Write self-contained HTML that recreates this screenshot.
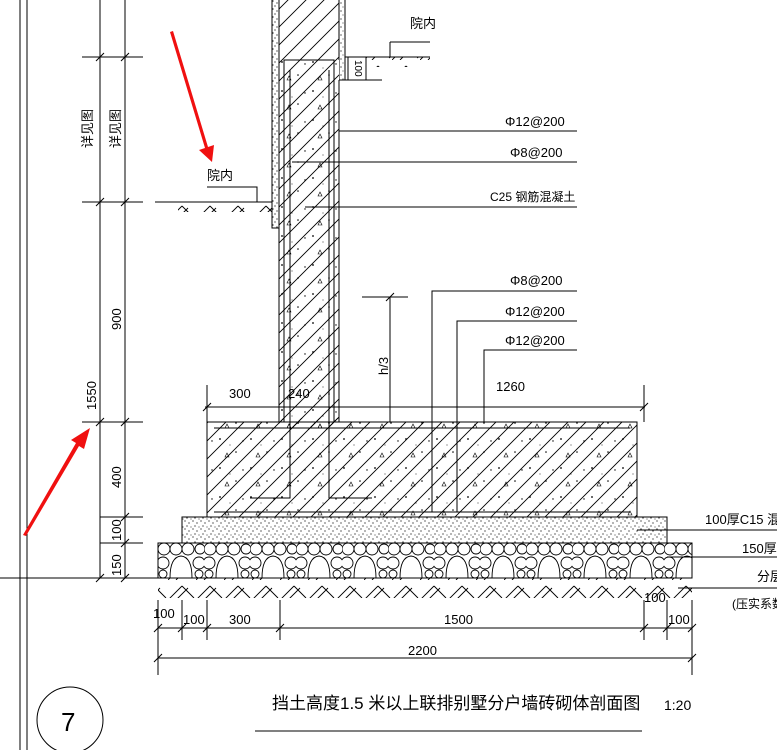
<!DOCTYPE html>
<html><head><meta charset="utf-8"><style>
html,body{margin:0;padding:0;background:#fff}
svg{display:block}
text{font-family:"Liberation Sans","Noto Sans CJK SC",sans-serif;fill:#000}
</style></head><body>
<svg width="777" height="750" viewBox="0 0 777 750" xmlns="http://www.w3.org/2000/svg">
<defs>
<pattern id="h" width="18" height="18" patternUnits="userSpaceOnUse">
<path d="M0 18 L18 0 M-2 2 L2 -2 M16 20 L20 16" stroke="#000" stroke-width="0.9" fill="none"/></pattern>
<pattern id="dots" width="31" height="29" patternUnits="userSpaceOnUse">
<circle cx="3" cy="4" r="0.9"/><circle cx="19" cy="17" r="0.8"/><path d="M8 22 l4 0 l-2 -4z" fill="none" stroke="#000" stroke-width="0.6"/><circle cx="26" cy="6" r="0.7"/><circle cx="13" cy="10" r="0.5"/></pattern>
<pattern id="sand" width="8" height="8" patternUnits="userSpaceOnUse">
<circle cx="1" cy="1" r="0.6"/><circle cx="5" cy="3" r="0.6"/><circle cx="3" cy="6" r="0.6"/><circle cx="7" cy="7" r="0.5"/></pattern>
<pattern id="gnd" width="28" height="20" patternUnits="userSpaceOnUse">
<path d="M0 20 L14 6 M8 20 L20 8 M14 6 L26 18" stroke="#000" stroke-width="0.9" fill="none"/></pattern>
<pattern id="stone" width="46" height="35" patternUnits="userSpaceOnUse" x="158" y="543">
<g fill="none" stroke="#000" stroke-width="0.9">
<circle cx="6" cy="6" r="6"/><circle cx="18" cy="6" r="6"/><circle cx="30" cy="6" r="6"/><circle cx="42" cy="6" r="5"/>
<path d="M12 35 Q12 14 23 13 Q34 14 34 35"/><circle cx="5" cy="20" r="6"/><circle cx="41" cy="20" r="6"/><circle cx="5" cy="31" r="4"/><circle cx="41" cy="31" r="4"/></g></pattern>
</defs>

<line x1="20" y1="0" x2="20" y2="750" stroke="#000"/>
<line x1="27" y1="0" x2="27" y2="750" stroke="#000"/>

<g stroke="#000" stroke-width="1">
<line x1="100" y1="0" x2="100" y2="578"/>
<line x1="125" y1="0" x2="125" y2="578"/>
<line x1="82" y1="57" x2="143" y2="57"/><line x1="82" y1="202" x2="143" y2="202"/>
<line x1="82" y1="422" x2="143" y2="422"/><line x1="100" y1="517" x2="143" y2="517"/>
<line x1="100" y1="543" x2="143" y2="543"/><line x1="0" y1="578" x2="692" y2="578"/>
<path d="M96 61l8-8M121 61l8-8M96 206l8-8M121 206l8-8M96 426l8-8M121 426l8-8M121 521l8-8M121 547l8-8M96 582l8-8M121 582l8-8"/>
</g>
<g font-size="13">
<text transform="translate(92,148) rotate(-90)">详见图</text>
<text transform="translate(120,148) rotate(-90)">详见图</text>
<text transform="translate(121,330) rotate(-90)">900</text>
<text transform="translate(96,410) rotate(-90)">1550</text>
<text transform="translate(121,488) rotate(-90)">400</text>
<text transform="translate(121,541) rotate(-90)">100</text>
<text transform="translate(121,576) rotate(-90)">150</text>
</g>

<rect x="279" y="-2" width="60" height="120" fill="url(#h)" stroke="#000"/>
<rect x="272" y="-2" width="7" height="230" fill="url(#sand)" stroke="#000"/>
<rect x="339" y="-2" width="6" height="82" fill="url(#sand)" stroke="#000"/>
<rect x="279" y="60" width="60" height="362" fill="#fff" stroke="none"/>
<rect x="279" y="60" width="60" height="370" fill="url(#h)"/>
<rect x="279" y="60" width="60" height="370" fill="url(#dots)"/>
<line x1="279" y1="0" x2="279" y2="422" stroke="#000"/>
<line x1="339" y1="80" x2="339" y2="422" stroke="#000"/>
<rect x="284" y="60" width="50" height="362" fill="none" stroke="#000"/>

<rect x="207" y="422" width="430" height="95" fill="url(#h)" stroke="#000"/>
<rect x="207" y="422" width="430" height="95" fill="url(#dots)"/>
<rect x="279" y="418" width="60" height="10" fill="url(#h)"/>
<line x1="207" y1="422" x2="279" y2="422" stroke="#000"/>
<line x1="339" y1="422" x2="637" y2="422" stroke="#000"/>
<line x1="214" y1="428" x2="630" y2="428" stroke="#000"/>
<line x1="214" y1="512" x2="630" y2="512" stroke="#000"/>
<path d="M290 70 V498 H250 M329 70 V498 H372" fill="none" stroke="#000"/>
<line x1="432" y1="422" x2="432" y2="512" stroke="#000"/>
<line x1="457" y1="422" x2="457" y2="512" stroke="#000"/>

<rect x="182" y="517" width="485" height="26" fill="url(#sand)" stroke="#000"/>
<rect x="158" y="543" width="534" height="35" fill="url(#stone)" stroke="#000"/>
<rect x="158" y="578" width="534" height="20" fill="url(#gnd)"/>

<line x1="155" y1="202" x2="272" y2="202" stroke="#000"/>
<rect x="178" y="202" width="94" height="10" fill="url(#gnd)"/>
<path d="M207 187 H257 V202" fill="none" stroke="#000"/>
<text x="207" y="180" font-size="13">院内</text>
<line x1="345" y1="57" x2="430" y2="57" stroke="#000"/>
<rect x="366" y="57" width="64" height="10" fill="url(#gnd)"/>
<path d="M390 42 H430 M390 42 V57" fill="none" stroke="#000"/>
<text x="410" y="28" font-size="13">院内</text>
<rect x="348" y="57" width="18" height="23" fill="#fff" stroke="#000"/>
<line x1="345" y1="80" x2="382" y2="80" stroke="#000"/>
<text transform="translate(355,60) rotate(90)" font-size="10">100</text>

<g stroke="#000" fill="none">
<path d="M339 131 H577"/><path d="M292 162 H577"/><path d="M305 207 H577"/>
<path d="M432 422 V291 H577"/><path d="M457 422 V321 H577"/><path d="M484 422 V350 H577"/>
<path d="M637 530 H777"/><path d="M667 557 H777"/><path d="M678 588 H777"/>
<path d="M362 297 H408 M390 297 V422 M386 301l8-8"/>
</g>
<g font-size="13">
<text x="505" y="126">Φ12@200</text>
<text x="510" y="157">Φ8@200</text>
<text x="490" y="201" font-size="12">C25 钢筋混凝土</text>
<text x="510" y="285">Φ8@200</text>
<text x="505" y="316">Φ12@200</text>
<text x="505" y="345">Φ12@200</text>
<text transform="translate(388,375) rotate(-90)">h/3</text>
<text x="705" y="524">100厚C15 混</text>
<text x="742" y="553">150厚</text>
<text x="757" y="581">分层</text>
<text x="732" y="608" font-size="12">(压实系数</text>
</g>

<g stroke="#000">
<line x1="205" y1="407" x2="645" y2="407"/>
<line x1="207" y1="385" x2="207" y2="422"/><line x1="644" y1="385" x2="644" y2="422"/>
<path d="M203 411l8-8M640 411l8-8"/>
</g>
<g font-size="13"><text x="229" y="398">300</text><text x="288" y="398">240</text><text x="496" y="391">1260</text></g>

<g stroke="#000">
<line x1="158" y1="628" x2="692" y2="628"/>
<line x1="158" y1="658" x2="692" y2="658"/>
<path d="M158 600V675M182 600V640M207 600V640M280 600V640M644 600V640M667 600V640M692 600V675"/>
<path d="M154 632l8-8M178 632l8-8M203 632l8-8M276 632l8-8M640 632l8-8M663 632l8-8M688 632l8-8M154 662l8-8M688 662l8-8"/>
</g>
<g font-size="13">
<text x="153" y="618">100</text><text x="183" y="624">100</text><text x="229" y="624">300</text>
<text x="444" y="624">1500</text><text x="668" y="624">100</text><text x="644" y="602">100</text>
<text x="408" y="655">2200</text>
</g>

<text x="272" y="709" font-size="17">挡土高度1.5 米以上联排别墅分户墙砖砌体剖面图</text>
<line x1="255" y1="731" x2="642" y2="731" stroke="#000"/>
<text x="664" y="710" font-size="14">1:20</text>
<circle cx="70" cy="720" r="33" fill="none" stroke="#000"/>
<text x="61" y="731" font-size="26">7</text>

<path d="M170 32 L205 148 L199 150 L212 162 L214 145 L208 147 L173 31z" fill="#f01010"/>
<path d="M23 535 L76 443 L71 440 L90 428 L84 449 L79 446 L26 536z" fill="#f01010"/>
</svg>
</body></html>
